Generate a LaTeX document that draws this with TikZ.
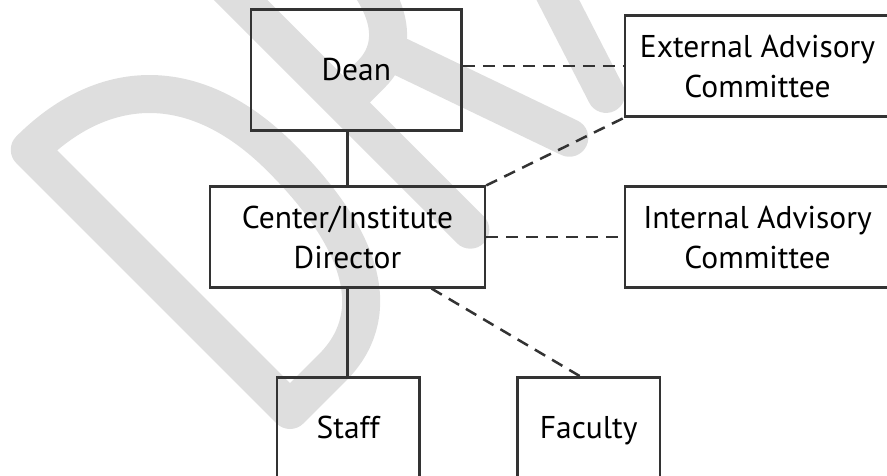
\documentclass[tikz,border=0pt]{standalone}
\usepackage{fontspec}
\setmainfont{PT Sans}
\usepackage{color}
\definecolor{myline}{RGB}{51,51,51}
\definecolor{mywatermark}{RGB}{222,222,222}
\usepackage{tikz}
\usetikzlibrary{positioning,calc}
\tikzstyle{unit}=[draw=myline,line width=2.5pt,rectangle,inner sep=0pt,align=center,font=\fontsize{31.5}{40}\selectfont]

\begin{document}
\begin{tikzpicture}[
  x=1pt,
  y=-1pt,
  link/.style={draw=myline, line width=2.5pt},
  dashlink/.style={draw=myline, line width=2.5pt, dash pattern=on 12pt off 8pt},
  letter/.style={draw=mywatermark, line width=38pt, line cap=round, line join=round}
]
\useasboundingbox (0,0) rectangle (887,476);

\begin{scope}
  \clip (0,0) rectangle (887,476);
  \begin{scope}[shift={(290,410)}, x={(0.7071pt,0.7071pt)}, y={(-0.7071pt,0.7071pt)}]
    \draw [letter] (0,0) -- (0,368) .. controls (100,368) and (172,310) .. (172,185)
      .. controls (172,60) and (130,0) .. (60,0) -- cycle;
    \draw [letter] (255,0) -- (255,370) -- (300,370) .. controls (345,370) and (360,330) .. (360,280)
      .. controls (360,215) and (335,180) .. (295,180) -- (255,180);
    \draw [letter] (325,180) -- (390,-5);
    \draw [letter] (447,0) -- (566,370) -- (685,0);
    \draw [letter] (485,120) -- (647,120);
  \end{scope}
\end{scope}

\node [unit, minimum width=210.5pt, minimum height=121.4pt] (dean) at (356.3,70) {Dean};
\node [unit, minimum width=275pt, minimum height=100.6pt] (director) at (347.5,237) {Center/Institute\\Director};
\node [unit, minimum width=265pt, minimum height=101.4pt] (external) at (757.5,66) {External Advisory\\Committee};
\node [unit, minimum width=265pt, minimum height=100.6pt] (internal) at (757.5,237) {Internal Advisory\\Committee};
\node [unit, minimum width=142.5pt, minimum height=100pt] (staff) at (348.2,427.3) {Staff};
\node [unit, minimum width=142.5pt, minimum height=100pt] (faculty) at (588.7,427.3) {\raisebox{0pt}[\height][0pt]{Faculty}};

\draw [link] (director.north) -- (director.north |- dean.south);
\draw [link] (director.south) -- (director.south |- staff.north);
\draw [dashlink] (dean.east |- external.west) -- (external.west);
\draw [dashlink] (director.east) -- (internal.west);
\draw [dashlink] (director.north east) -- (external.south west);
\draw [dashlink] ([xshift=84pt]director.south) -- ([xshift=-9pt]faculty.north);

\end{tikzpicture}
\end{document}
